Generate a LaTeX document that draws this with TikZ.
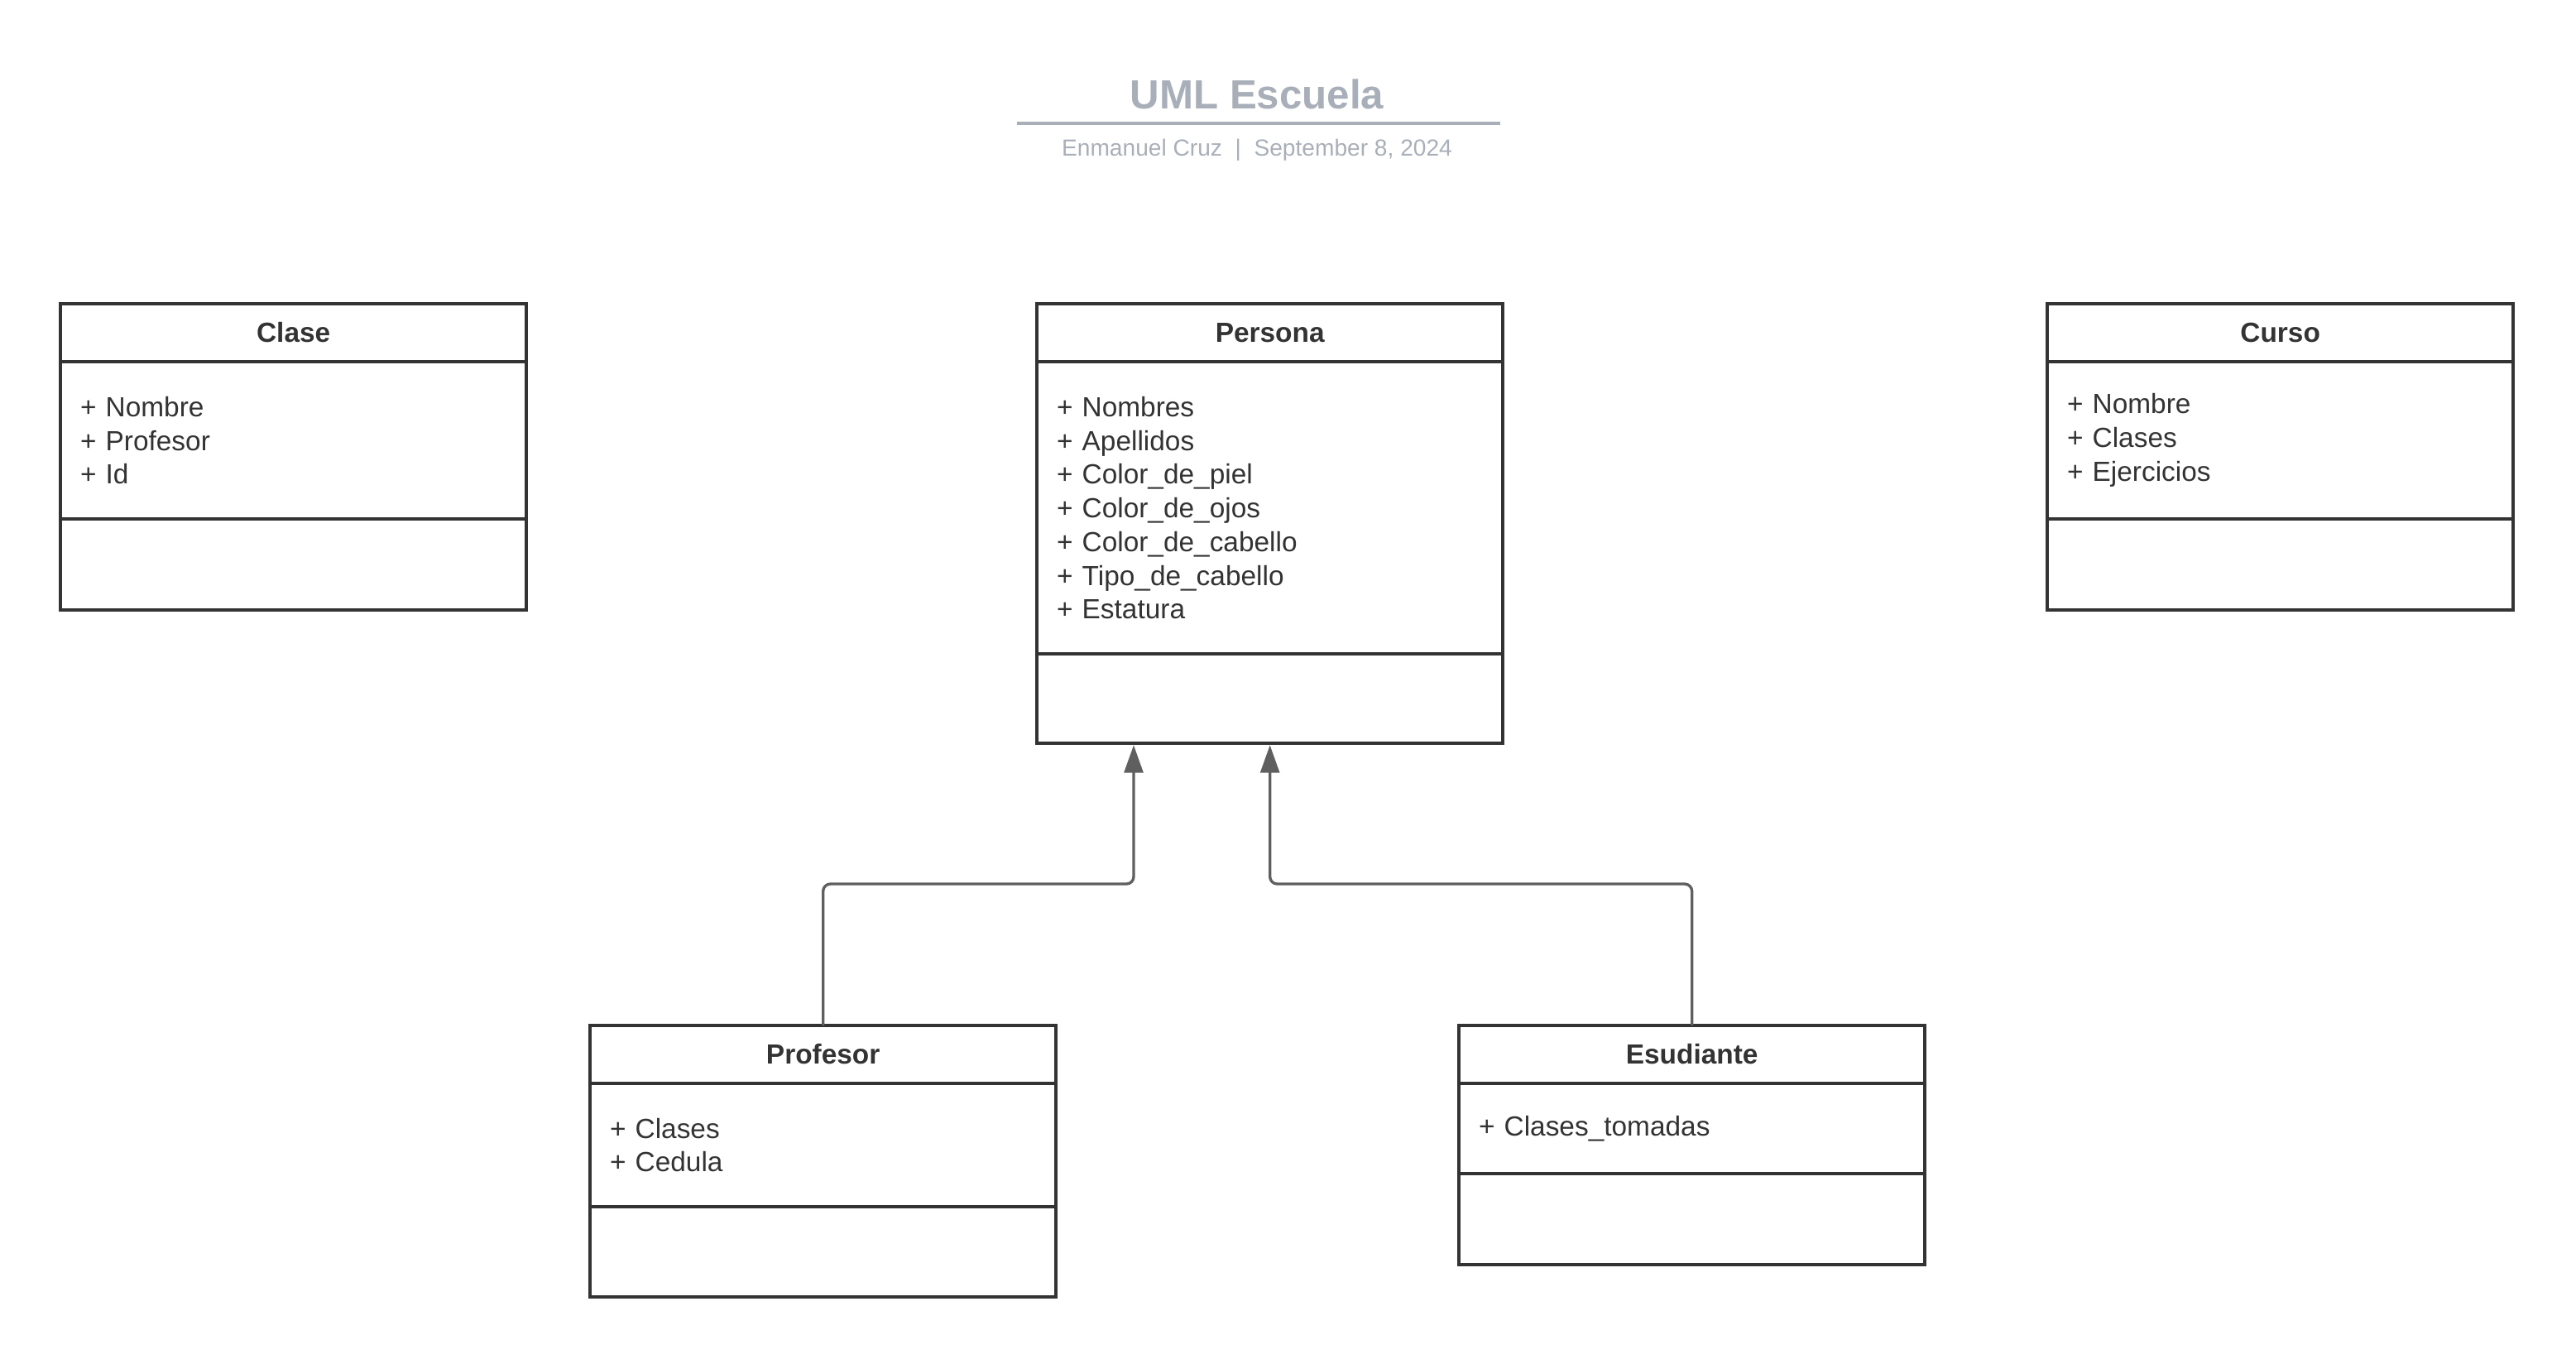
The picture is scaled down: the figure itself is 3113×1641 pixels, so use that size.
\documentclass[tikz,border=0pt]{standalone}
\usepackage{fontspec}
\setmainfont{Liberation Sans}
\usetikzlibrary{positioning,arrows.meta}
\definecolor{ink}{HTML}{333333}
\definecolor{wire}{HTML}{5F5F5F}
\definecolor{titlegray}{HTML}{A9AFB9}
\begin{document}
\begin{tikzpicture}[x=0.01cm,y=-0.01cm,
    classhead/.style={draw=ink,line width=1.1pt,minimum width=5.63cm,minimum height=0.7cm,
      inner sep=0pt,outer sep=0pt,anchor=north west,text=ink,font=\fontsize{9.5}{11.6}\selectfont\bfseries},
    classbody/.style={draw=ink,line width=1.1pt,text width=5.15cm,inner xsep=0.24cm,inner ysep=0pt,
      outer sep=0pt,align=left,text=ink,font=\fontsize{9.5}{11.6}\selectfont},
    generalize/.style={draw=wire,line width=0.95pt,rounded corners=2.5pt,
      -{Triangle[length=9.5pt,width=6.5pt]},shorten >=0.55pt}]
  \useasboundingbox (0,0) rectangle (3113,1641);

  % title block
  \node[anchor=base,text=titlegray,font=\fontsize{14}{16}\selectfont\bfseries] (title) at (1519,131) {UML Escuela};
  \coordinate (rule-l) at (1229,149);
  \coordinate (rule-r) at (1813,149);
  \draw[titlegray,line width=1.1pt] (rule-l) -- (rule-r);
  \node[anchor=base,text=titlegray,font=\fontsize{8}{10}\selectfont] (byline) at (1519,188)
    {Enmanuel Cruz\ \ |\ \ September 8, 2024};

  % Clase
  \node[classhead] (clase) at (73,367) {Clase};
  \node[classbody,minimum height=1.9cm,below=0pt of clase] (clase-a) {+ Nombre\\+ Profesor\\+ Id};
  \node[classbody,minimum height=1.1cm,below=0pt of clase-a] (clase-o) {};

  % Persona
  \node[classhead] (persona) at (1253,367) {Persona};
  \node[classbody,minimum height=3.53cm,below=0pt of persona] (persona-a)
    {+ Nombres\\+ Apellidos\\+ Color\_de\_piel\\+ Color\_de\_ojos\\+ Color\_de\_cabello\\+ Tipo\_de\_cabello\\+ Estatura};
  \node[classbody,minimum height=1.08cm,below=0pt of persona-a] (persona-o) {};

  % Curso
  \node[classhead] (curso) at (2474,367) {Curso};
  \node[classbody,minimum height=1.9cm,below=0pt of curso] (curso-a) {+ Nombre\\+ Clases\\+ Ejercicios};
  \node[classbody,minimum height=1.1cm,below=0pt of curso-a] (curso-o) {};

  % Profesor
  \node[classhead] (profesor) at (713,1239) {Profesor};
  \node[classbody,minimum height=1.49cm,below=0pt of profesor] (profesor-a) {+ Clases\\+ Cedula};
  \node[classbody,minimum height=1.09cm,below=0pt of profesor-a] (profesor-o) {};

  % Esudiante
  \node[classhead] (esudiante) at (1763,1239) {Esudiante};
  \node[classbody,minimum height=1.09cm,below=0pt of esudiante] (esudiante-a) {+ Clases\_tomadas};
  \node[classbody,minimum height=1.1cm,below=0pt of esudiante-a] (esudiante-o) {};

  % herencia
  \coordinate (bend-p) at (1370,1068);
  \coordinate (bend-e) at (persona-o.south |- bend-p);
  \draw[generalize] (profesor.north) |- (bend-p) -- (bend-p |- persona-o.south);
  \draw[generalize] (esudiante.north) |- (bend-e) -- (persona-o.south);
\end{tikzpicture}
\end{document}
